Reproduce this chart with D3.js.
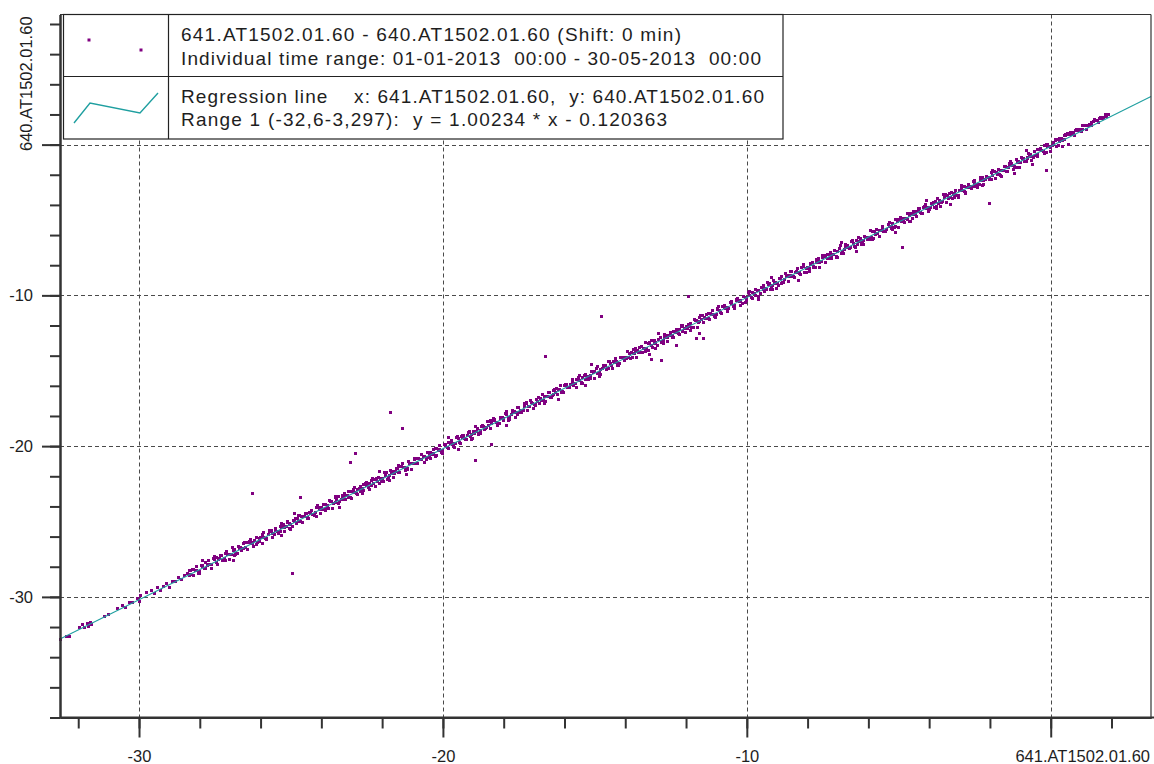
<!DOCTYPE html>
<html><head><meta charset="utf-8">
<script src="https://cdn.jsdelivr.net/npm/d3@7"></script>
<style>
body{margin:0;background:#fff}
svg{display:block}
text{font-family:"Liberation Sans",Arial,sans-serif;fill:#1e1e1e}
</style>
</head><body>
<svg id="chart" width="1154" height="764"></svg>
<script>
// ---------- data ----------
const xDomain = [-32.6, 3.3];
const yDomain = [-38, 8.63];
const xMajorTicks = [-30, -20, -10, 0];
const xMinorTicks = [-32,-30,-28,-26,-24,-22,-20,-18,-16,-14,-12,-10,-8,-6,-4,-2,0,2];
const yMajorTicks = [-30, -20, -10, 0];
const yMinorTicks = [-38,-36,-34,-32,-30,-28,-26,-24,-22,-20,-18,-16,-14,-12,-10,-8,-6,-4,-2,0,2,4,6,8];
const xTickLabels = {"-30":"-30","-20":"-20","-10":"-10","0":""};
const yTickLabels = {"-30":"-30","-20":"-20","-10":"-10","0":""};
const xAxisTitle = "641.AT1502.01.60";
const yAxisTitle = "640.AT1502.01.60";
const legendLines = [
  "641.AT1502.01.60 - 640.AT1502.01.60 (Shift: 0 min)",
  "Individual time range: 01-01-2013  00:00 - 30-05-2013  00:00",
  "Regression line    x: 641.AT1502.01.60,  y: 640.AT1502.01.60",
  "Range 1 (-32,6-3,297):  y = 1.00234 * x - 0.120363"
];
const regSlope = 1.00234;
const regIntercept = -0.120363;
const regXRange = [-32.6, 3.3];

// sparse points at the low end
const edgePoints = [[-32.6,-32.80],[-32.4,-32.60],[-32.3,-32.62],[-31.95,-32.05],[-31.85,-31.85],[-31.8,-32.0],[-31.7,-31.75],[-31.65,-31.95],[-31.6,-31.7],[-31.55,-31.8],[-31.15,-31.3],[-31.0,-31.15],[-30.7,-30.75],[-30.55,-30.55],[-30.45,-30.7],[-30.3,-30.4],[-30.2,-30.35],[-30.05,-30.1],[-30.0,-30.3],[-29.95,-29.9],[-29.75,-29.7],[-29.6,-29.55],[-29.5,-29.75],[-29.4,-29.4],[-29.3,-29.55],[-29.2,-29.3],[-29.1,-29.1],[-29.0,-29.35],[-28.9,-28.95],[-28.8,-29.0],[-28.7,-28.7],[-28.6,-28.85],[-28.5,-28.55]];

// dense band (first pass)
const bandPoints = [
[-28.4,-28.45],[-28.3,-28.52],[-28.2,-28.18],[-28.1,-28.25],[-28.0,-28.30],[-27.9,-27.98],[-27.8,-27.75],[-27.7,-27.88],[-27.6,-27.85],[-27.5,-27.52],
[-27.4,-27.52],[-27.3,-27.26],[-27.2,-27.48],[-27.1,-27.20],[-27.0,-27.20],[-26.9,-26.90],[-26.8,-27.13],[-26.7,-26.76],[-26.6,-26.76],[-26.5,-26.74],
[-26.4,-26.37],[-26.3,-26.49],[-26.2,-26.29],[-26.1,-26.37],[-26.0,-26.04],[-25.9,-26.04],[-25.8,-26.15],[-25.7,-25.64],[-25.6,-25.81],[-25.5,-25.61],
[-25.4,-25.66],[-25.3,-25.37],[-25.2,-25.37],[-25.1,-25.09],[-25.0,-25.23],[-24.9,-25.03],[-24.8,-24.83],[-24.7,-24.99],[-24.6,-24.70],[-24.5,-24.46],
[-24.4,-24.42],[-24.3,-24.55],[-24.2,-24.38],[-24.1,-24.05],[-24.0,-24.08],[-23.9,-24.20],[-23.8,-23.95],[-23.7,-23.68],[-23.6,-23.82],[-23.5,-23.55],
[-23.4,-23.64],[-23.3,-23.46],[-23.2,-23.26],[-23.1,-23.43],[-23.0,-23.00],[-22.9,-23.10],[-22.8,-22.90],[-22.7,-22.98],[-22.6,-22.56],[-22.5,-22.62],
[-22.4,-22.51],[-22.3,-22.51],[-22.2,-22.14],[-22.1,-22.45],[-22.0,-22.14],[-21.9,-21.94],[-21.8,-22.07],[-21.7,-21.79],[-21.6,-21.79],[-21.5,-21.47],
[-21.4,-21.36],[-21.3,-21.40],[-21.2,-21.49],[-21.1,-21.13],[-21.0,-21.13],[-20.9,-21.13],[-20.8,-20.79],[-20.7,-20.87],[-20.6,-20.67],[-20.5,-20.76],
[-20.4,-20.45],[-20.3,-20.52],[-20.2,-20.18],[-20.1,-20.25],[-20.0,-20.30],[-19.9,-19.98],[-19.8,-19.75],[-19.7,-19.88],[-19.6,-19.85],[-19.5,-19.52],
[-19.4,-19.37],[-19.3,-19.49],[-19.2,-19.29],[-19.1,-19.37],[-19.0,-19.04],[-18.9,-19.04],[-18.8,-19.15],[-18.7,-18.64],[-18.6,-18.81],[-18.5,-18.61],
[-18.4,-18.52],[-18.3,-18.26],[-18.2,-18.48],[-18.1,-18.20],[-18.0,-18.20],[-17.9,-17.90],[-17.8,-18.13],[-17.7,-17.76],[-17.6,-17.76],[-17.5,-17.74],
[-17.4,-17.66],[-17.3,-17.37],[-17.2,-17.37],[-17.1,-17.09],[-17.0,-17.23],[-16.9,-17.03],[-16.8,-16.83],[-16.7,-16.99],[-16.6,-16.70],[-16.5,-16.46],
[-16.4,-16.64],[-16.3,-16.46],[-16.2,-16.26],[-16.1,-16.43],[-16.0,-16.00],[-15.9,-16.10],[-15.8,-15.90],[-15.7,-15.98],[-15.6,-15.56],[-15.5,-15.62],
[-15.4,-15.42],[-15.3,-15.55],[-15.2,-15.38],[-15.1,-15.05],[-15.0,-15.08],[-14.9,-15.20],[-14.8,-14.95],[-14.7,-14.68],[-14.6,-14.82],[-14.5,-14.55],
[-14.4,-14.36],[-14.3,-14.40],[-14.2,-14.49],[-14.1,-14.13],[-14.0,-14.13],[-13.9,-14.13],[-13.8,-13.79],[-13.7,-13.87],[-13.6,-13.67],[-13.5,-13.76],
[-13.4,-13.51],[-13.3,-13.51],[-13.2,-13.14],[-13.1,-13.45],[-13.0,-13.14],[-12.9,-12.94],[-12.8,-13.07],[-12.7,-12.79],[-12.6,-12.79],[-12.5,-12.47],
[-12.4,-12.37],[-12.3,-12.49],[-12.2,-12.29],[-12.1,-12.37],[-12.0,-12.04],[-11.9,-12.04],[-11.8,-12.15],[-11.7,-11.64],[-11.6,-11.81],[-11.5,-11.61],
[-11.4,-11.45],[-11.3,-11.52],[-11.2,-11.18],[-11.1,-11.25],[-11.0,-11.30],[-10.9,-10.98],[-10.8,-10.75],[-10.7,-10.88],[-10.6,-10.85],[-10.5,-10.52],
[-10.4,-10.66],[-10.3,-10.37],[-10.2,-10.37],[-10.1,-10.09],[-10.0,-10.23],[-9.9,-10.03],[-9.8,-9.83],[-9.7,-9.99],[-9.6,-9.70],[-9.5,-9.46],
[-9.4,-9.52],[-9.3,-9.26],[-9.2,-9.48],[-9.1,-9.20],[-9.0,-9.20],[-8.9,-8.90],[-8.8,-9.13],[-8.7,-8.76],[-8.6,-8.76],[-8.5,-8.74],
[-8.4,-8.51],[-8.3,-8.51],[-8.2,-8.14],[-8.1,-8.45],[-8.0,-8.14],[-7.9,-7.94],[-7.8,-8.07],[-7.7,-7.79],[-7.6,-7.79],[-7.5,-7.47],
[-7.4,-7.42],[-7.3,-7.55],[-7.2,-7.38],[-7.1,-7.05],[-7.0,-7.08],[-6.9,-7.20],[-6.8,-6.95],[-6.7,-6.68],[-6.6,-6.82],[-6.5,-6.55],
[-6.4,-6.36],[-6.3,-6.40],[-6.2,-6.49],[-6.1,-6.13],[-6.0,-6.13],[-5.9,-6.13],[-5.8,-5.79],[-5.7,-5.87],[-5.6,-5.67],[-5.5,-5.76],
[-5.4,-5.64],[-5.3,-5.46],[-5.2,-5.26],[-5.1,-5.43],[-5.0,-5.00],[-4.9,-5.10],[-4.8,-4.90],[-4.7,-4.98],[-4.6,-4.56],[-4.5,-4.62],
[-4.4,-4.45],[-4.3,-4.52],[-4.2,-4.18],[-4.1,-4.25],[-4.0,-4.30],[-3.9,-3.98],[-3.8,-3.75],[-3.7,-3.88],[-3.6,-3.85],[-3.5,-3.52],
[-3.4,-3.37],[-3.3,-3.49],[-3.2,-3.29],[-3.1,-3.37],[-3.0,-3.04],[-2.9,-3.04],[-2.8,-3.15],[-2.7,-2.64],[-2.6,-2.81],[-2.5,-2.61],
[-2.4,-2.66],[-2.3,-2.37],[-2.2,-2.37],[-2.1,-2.09],[-2.0,-2.23],[-1.9,-2.03],[-1.8,-1.83],[-1.7,-1.99],[-1.6,-1.70],[-1.5,-1.46],
[-1.4,-1.52],[-1.3,-1.26],[-1.2,-1.48],[-1.1,-1.20],[-1.0,-1.20],[-0.9,-0.90],[-0.8,-1.13],[-0.7,-0.76],[-0.6,-0.76],[-0.5,-0.74],
[-0.4,-0.35],[-0.3,-0.42],[-0.2,-0.08],[-0.1,-0.15],[0.0,-0.20],[0.1,0.12],[0.2,0.35],[0.3,0.22],[0.4,0.25],[0.5,0.58],
[0.6,0.70],[0.7,0.65],[0.8,0.95],[0.9,0.92],[1.0,0.90],[1.1,1.30],[1.2,1.25],[1.3,1.28],[1.4,1.52],[1.5,1.58],
[1.6,1.75],[1.7,1.75],[1.8,2.00],[1.9,2.00]
];

// dense band (second pass, in between)
const bandPoints2 = [
[-28.35,-28.55],[-28.25,-28.17],[-28.15,-28.27],[-28.05,-28.39],[-27.95,-27.92],[-27.85,-28.11],[-27.75,-27.82],[-27.65,-27.83],[-27.55,-27.45],[-27.45,-27.75],
[-27.35,-27.44],[-27.25,-27.56],[-27.15,-27.09],[-27.05,-27.20],[-26.95,-27.19],[-26.85,-26.85],[-26.75,-27.13],[-26.65,-26.70],[-26.55,-26.76],[-26.45,-26.36],
[-26.35,-26.33],[-26.25,-26.41],[-26.15,-26.51],[-26.05,-26.13],[-25.95,-25.84],[-25.85,-26.12],[-25.75,-25.88],[-25.65,-25.67],[-25.55,-25.88],[-25.45,-25.64],
[-25.35,-25.63],[-25.25,-25.20],[-25.15,-25.34],[-25.05,-25.16],[-24.95,-25.32],[-24.85,-24.78],[-24.75,-24.98],[-24.65,-24.69],[-24.55,-24.69],[-24.45,-24.77],
[-24.35,-24.44],[-24.25,-24.56],[-24.15,-24.09],[-24.05,-24.20],[-23.95,-24.19],[-23.85,-23.85],[-23.75,-24.13],[-23.65,-23.70],[-23.55,-23.76],[-23.45,-23.36],
[-23.35,-23.55],[-23.25,-23.17],[-23.15,-23.27],[-23.05,-23.39],[-22.95,-22.92],[-22.85,-23.11],[-22.75,-22.82],[-22.65,-22.83],[-22.55,-22.45],[-22.45,-22.75],
[-22.35,-22.63],[-22.25,-22.20],[-22.15,-22.34],[-22.05,-22.16],[-21.95,-22.32],[-21.85,-21.78],[-21.75,-21.98],[-21.65,-21.69],[-21.55,-21.69],[-21.45,-21.77],
[-21.35,-21.33],[-21.25,-21.41],[-21.15,-21.51],[-21.05,-21.13],[-20.95,-20.84],[-20.85,-21.12],[-20.75,-20.88],[-20.65,-20.67],[-20.55,-20.88],[-20.45,-20.64],
[-20.35,-20.55],[-20.25,-20.17],[-20.15,-20.27],[-20.05,-20.39],[-19.95,-19.92],[-19.85,-20.11],[-19.75,-19.82],[-19.65,-19.83],[-19.55,-19.45],[-19.45,-19.75],
[-19.35,-19.44],[-19.25,-19.56],[-19.15,-19.09],[-19.05,-19.20],[-18.95,-19.19],[-18.85,-18.85],[-18.75,-19.13],[-18.65,-18.70],[-18.55,-18.76],[-18.45,-18.36],
[-18.35,-18.33],[-18.25,-18.41],[-18.15,-18.51],[-18.05,-18.13],[-17.95,-17.84],[-17.85,-18.12],[-17.75,-17.88],[-17.65,-17.67],[-17.55,-17.88],[-17.45,-17.64],
[-17.35,-17.63],[-17.25,-17.20],[-17.15,-17.34],[-17.05,-17.16],[-16.95,-17.32],[-16.85,-16.78],[-16.75,-16.98],[-16.65,-16.69],[-16.55,-16.69],[-16.45,-16.77],
[-16.35,-16.55],[-16.25,-16.17],[-16.15,-16.27],[-16.05,-16.39],[-15.95,-15.92],[-15.85,-16.11],[-15.75,-15.82],[-15.65,-15.83],[-15.55,-15.45],[-15.45,-15.75],
[-15.35,-15.33],[-15.25,-15.41],[-15.15,-15.51],[-15.05,-15.13],[-14.95,-14.84],[-14.85,-15.12],[-14.75,-14.88],[-14.65,-14.67],[-14.55,-14.88],[-14.45,-14.64],
[-14.35,-14.44],[-14.25,-14.56],[-14.15,-14.09],[-14.05,-14.20],[-13.95,-14.19],[-13.85,-13.85],[-13.75,-14.13],[-13.65,-13.70],[-13.55,-13.76],[-13.45,-13.36],
[-13.35,-13.63],[-13.25,-13.20],[-13.15,-13.34],[-13.05,-13.16],[-12.95,-13.32],[-12.85,-12.78],[-12.75,-12.98],[-12.65,-12.69],[-12.55,-12.69],[-12.45,-12.77],
[-12.35,-12.44],[-12.25,-12.56],[-12.15,-12.09],[-12.05,-12.20],[-11.95,-12.19],[-11.85,-11.85],[-11.75,-12.13],[-11.65,-11.70],[-11.55,-11.76],[-11.45,-11.36],
[-11.35,-11.55],[-11.25,-11.17],[-11.15,-11.27],[-11.05,-11.39],[-10.95,-10.92],[-10.85,-11.11],[-10.75,-10.82],[-10.65,-10.83],[-10.55,-10.45],[-10.45,-10.75],
[-10.35,-10.33],[-10.25,-10.41],[-10.15,-10.51],[-10.05,-10.13],[-9.95,-9.84],[-9.85,-10.12],[-9.75,-9.88],[-9.65,-9.67],[-9.55,-9.88],[-9.45,-9.64],
[-9.35,-9.63],[-9.25,-9.20],[-9.15,-9.34],[-9.05,-9.16],[-8.95,-9.32],[-8.85,-8.78],[-8.75,-8.98],[-8.65,-8.69],[-8.55,-8.69],[-8.45,-8.77],
[-8.35,-8.44],[-8.25,-8.56],[-8.15,-8.09],[-8.05,-8.20],[-7.95,-8.19],[-7.85,-7.85],[-7.75,-8.13],[-7.65,-7.70],[-7.55,-7.76],[-7.45,-7.36],
[-7.35,-7.55],[-7.25,-7.17],[-7.15,-7.27],[-7.05,-7.39],[-6.95,-6.92],[-6.85,-7.11],[-6.75,-6.82],[-6.65,-6.83],[-6.55,-6.45],[-6.45,-6.75],
[-6.35,-6.63],[-6.25,-6.20],[-6.15,-6.34],[-6.05,-6.16],[-5.95,-6.32],[-5.85,-5.78],[-5.75,-5.98],[-5.65,-5.69],[-5.55,-5.69],[-5.45,-5.77],
[-5.35,-5.33],[-5.25,-5.41],[-5.15,-5.51],[-5.05,-5.13],[-4.95,-4.84],[-4.85,-5.12],[-4.75,-4.88],[-4.65,-4.67],[-4.55,-4.88],[-4.45,-4.64],
[-4.35,-4.44],[-4.25,-4.56],[-4.15,-4.09],[-4.05,-4.20],[-3.95,-4.19],[-3.85,-3.85],[-3.75,-4.13],[-3.65,-3.70],[-3.55,-3.76],[-3.45,-3.36],
[-3.35,-3.55],[-3.25,-3.17],[-3.15,-3.27],[-3.05,-3.39],[-2.95,-2.92],[-2.85,-3.11],[-2.75,-2.82],[-2.65,-2.83],[-2.55,-2.45],[-2.45,-2.75],
[-2.35,-2.63],[-2.25,-2.20],[-2.15,-2.34],[-2.05,-2.16],[-1.95,-2.32],[-1.85,-1.78],[-1.75,-1.98],[-1.65,-1.69],[-1.55,-1.69],[-1.45,-1.77],
[-1.35,-1.33],[-1.25,-1.41],[-1.15,-1.51],[-1.05,-1.13],[-0.95,-0.84],[-0.85,-1.12],[-0.75,-0.88],[-0.65,-0.67],[-0.55,-0.88],[-0.45,-0.64],
[-0.35,-0.34],[-0.25,-0.46],[-0.15,0.01],[-0.05,-0.10],[0.05,-0.09],[0.15,0.25],[0.25,-0.03],[0.35,0.40],[0.45,0.34],[0.55,0.74],
[0.65,0.77],[0.75,0.73],[0.85,1.03],[0.95,1.01],[1.05,0.97],[1.15,1.30],[1.25,1.25],[1.35,1.45],[1.45,1.65],[1.55,1.59],[1.65,1.79],[1.75,1.83],[1.85,1.87]
];

// upper edge of the band
const upperPoints = [
[-28.32,-28.24],[-28.12,-27.97],[-27.92,-27.90],[-27.72,-27.60],[-27.52,-27.34],[-27.32,-27.27],[-27.12,-27.02],[-26.92,-26.72],[-26.72,-26.69],[-26.52,-26.38],
[-26.32,-26.18],[-26.12,-26.09],[-25.92,-25.72],[-25.72,-25.62],[-25.52,-25.47],[-25.32,-25.14],[-25.12,-25.00],[-24.92,-24.90],[-24.72,-24.57],[-24.52,-24.44],
[-24.32,-24.24],[-24.12,-23.97],[-23.92,-23.90],[-23.72,-23.60],[-23.52,-23.34],[-23.32,-23.27],[-23.12,-23.02],[-22.92,-22.72],[-22.72,-22.69],[-22.52,-22.38],
[-22.32,-22.18],[-22.12,-22.09],[-21.92,-21.72],[-21.72,-21.62],[-21.52,-21.47],[-21.32,-21.14],[-21.12,-21.00],[-20.92,-20.90],[-20.72,-20.57],[-20.52,-20.44],
[-20.32,-20.24],[-20.12,-19.97],[-19.92,-19.90],[-19.72,-19.60],[-19.52,-19.34],[-19.32,-19.27],[-19.12,-19.02],[-18.92,-18.72],[-18.72,-18.69],[-18.52,-18.38],
[-18.32,-18.18],[-18.12,-18.09],[-17.92,-17.72],[-17.72,-17.62],[-17.52,-17.47],[-17.32,-17.14],[-17.12,-17.00],[-16.92,-16.90],[-16.72,-16.57],[-16.52,-16.44],
[-16.32,-16.24],[-16.12,-15.97],[-15.92,-15.90],[-15.72,-15.60],[-15.52,-15.34],[-15.32,-15.27],[-15.12,-15.02],[-14.92,-14.72],[-14.72,-14.69],[-14.52,-14.38],
[-14.32,-14.18],[-14.12,-14.09],[-13.92,-13.72],[-13.72,-13.62],[-13.52,-13.47],[-13.32,-13.14],[-13.12,-13.00],[-12.92,-12.90],[-12.72,-12.57],[-12.52,-12.44],
[-12.32,-12.24],[-12.12,-11.97],[-11.92,-11.90],[-11.72,-11.60],[-11.52,-11.34],[-11.32,-11.27],[-11.12,-11.02],[-10.92,-10.72],[-10.72,-10.69],[-10.52,-10.38],
[-10.32,-10.18],[-10.12,-10.09],[-9.92,-9.72],[-9.72,-9.62],[-9.52,-9.47],[-9.32,-9.14],[-9.12,-9.00],[-8.92,-8.90],[-8.72,-8.57],[-8.52,-8.44],
[-8.32,-8.24],[-8.12,-7.97],[-7.92,-7.90],[-7.72,-7.60],[-7.52,-7.34],[-7.32,-7.27],[-7.12,-7.02],[-6.92,-6.72],[-6.72,-6.69],[-6.52,-6.38],
[-6.32,-6.18],[-6.12,-6.09],[-5.92,-5.72],[-5.72,-5.62],[-5.52,-5.47],[-5.32,-5.14],[-5.12,-5.00],[-4.92,-4.90],[-4.72,-4.57],[-4.52,-4.44],
[-4.32,-4.24],[-4.12,-3.97],[-3.92,-3.90],[-3.72,-3.60],[-3.52,-3.34],[-3.32,-3.27],[-3.12,-3.02],[-2.92,-2.72],[-2.72,-2.69],[-2.52,-2.38],
[-2.32,-2.18],[-2.12,-2.09],[-1.92,-1.72],[-1.72,-1.62],[-1.52,-1.47],[-1.32,-1.14],[-1.12,-1.00],[-0.92,-0.90],[-0.72,-0.57],[-0.52,-0.44],
[-0.32,-0.24],[-0.12,0.03],[0.08,0.10],[0.28,0.40],[0.48,0.66],[0.68,0.73],[0.88,0.98],[1.08,1.28],[1.28,1.31],[1.48,1.62],[1.68,1.76]
];

// lower edge of the band
const lowerPoints = [
[-28.22,-28.60],[-28.02,-28.47],[-27.82,-28.14],[-27.62,-28.12],[-27.42,-27.83],[-27.22,-27.57],[-27.02,-27.49],[-26.82,-27.22],[-26.62,-26.92],[-26.42,-26.85],
[-26.22,-26.65],[-26.02,-26.32],[-25.82,-26.22],[-25.62,-26.09],[-25.42,-25.77],[-25.22,-25.63],[-25.02,-25.52],[-24.82,-25.14],[-24.62,-25.07],[-24.42,-24.80],
[-24.22,-24.60],[-24.02,-24.47],[-23.82,-24.14],[-23.62,-24.12],[-23.42,-23.83],[-23.22,-23.57],[-23.02,-23.49],[-22.82,-23.22],[-22.62,-22.92],[-22.42,-22.85],
[-22.22,-22.65],[-22.02,-22.32],[-21.82,-22.22],[-21.62,-22.09],[-21.42,-21.77],[-21.22,-21.63],[-21.02,-21.52],[-20.82,-21.14],[-20.62,-21.07],[-20.42,-20.80],
[-20.22,-20.60],[-20.02,-20.47],[-19.82,-20.14],[-19.62,-20.12],[-19.42,-19.83],[-19.22,-19.57],[-19.02,-19.49],[-18.82,-19.22],[-18.62,-18.92],[-18.42,-18.85],
[-18.22,-18.65],[-18.02,-18.32],[-17.82,-18.22],[-17.62,-18.09],[-17.42,-17.77],[-17.22,-17.63],[-17.02,-17.52],[-16.82,-17.14],[-16.62,-17.07],[-16.42,-16.80],
[-16.22,-16.60],[-16.02,-16.47],[-15.82,-16.14],[-15.62,-16.12],[-15.42,-15.83],[-15.22,-15.57],[-15.02,-15.49],[-14.82,-15.22],[-14.62,-14.92],[-14.42,-14.85],
[-14.22,-14.65],[-14.02,-14.32],[-13.82,-14.22],[-13.62,-14.09],[-13.42,-13.77],[-13.22,-13.63],[-13.02,-13.52],[-12.82,-13.14],[-12.62,-13.07],[-12.42,-12.80],
[-12.22,-12.60],[-12.02,-12.47],[-11.82,-12.14],[-11.62,-12.12],[-11.42,-11.83],[-11.22,-11.57],[-11.02,-11.49],[-10.82,-11.22],[-10.62,-10.92],[-10.42,-10.85],
[-10.22,-10.65],[-10.02,-10.32],[-9.82,-10.22],[-9.62,-10.09],[-9.42,-9.77],[-9.22,-9.63],[-9.02,-9.52],[-8.82,-9.14],[-8.62,-9.07],[-8.42,-8.80],
[-8.22,-8.60],[-8.02,-8.47],[-7.82,-8.14],[-7.62,-8.12],[-7.42,-7.83],[-7.22,-7.57],[-7.02,-7.49],[-6.82,-7.22],[-6.62,-6.92],[-6.42,-6.85],
[-6.22,-6.65],[-6.02,-6.32],[-5.82,-6.22],[-5.62,-6.09],[-5.42,-5.77],[-5.22,-5.63],[-5.02,-5.52],[-4.82,-5.14],[-4.62,-5.07],[-4.42,-4.80],
[-4.22,-4.60],[-4.02,-4.47],[-3.82,-4.14],[-3.62,-4.12],[-3.42,-3.83],[-3.22,-3.57],[-3.02,-3.49],[-2.82,-3.22],[-2.62,-2.92],[-2.42,-2.85],
[-2.22,-2.65],[-2.02,-2.32],[-1.82,-2.22],[-1.62,-2.09],[-1.42,-1.77],[-1.22,-1.63],[-1.02,-1.52],[-0.82,-1.14],[-0.62,-1.07],[-0.42,-0.80],
[-0.22,-0.60],[-0.02,-0.47],[0.18,-0.14],[0.38,-0.12],[0.78,0.60],[1.18,1.00],[1.58,1.48]
];

// wider scatter around the band
const spreadPoints = [
[-28.35,-28.25],[-28.05,-28.45],[-27.75,-27.90],[-27.45,-27.37],[-27.15,-27.60],[-26.85,-27.23],[-26.55,-26.43],[-26.25,-26.45],[-25.95,-26.43],[-25.65,-25.58],[-25.35,-25.30],[-25.05,-25.47],[-24.75,-24.61],[-24.45,-24.75],[-24.15,-24.65],
[-23.85,-24.27],[-23.55,-23.43],[-23.25,-23.55],[-22.95,-22.88],[-22.65,-23.13],[-22.35,-22.25],[-22.05,-22.20],[-21.75,-22.25],[-21.45,-21.31],[-21.15,-21.53],[-20.85,-20.80],[-20.55,-20.75],[-20.25,-20.70],[-19.95,-19.87],[-19.65,-20.05],
[-19.35,-19.28],[-19.05,-19.53],[-18.75,-18.95],[-18.45,-18.33],[-18.15,-18.53],[-17.85,-18.30],[-17.55,-17.47],[-17.25,-17.11],[-16.95,-17.25],[-16.65,-17.15],[-16.35,-16.30],[-16.05,-16.47],[-15.75,-15.65],[-15.45,-15.85],[-15.15,-15.30],
[-14.85,-15.35],[-14.55,-14.41],[-14.25,-14.67],[-13.95,-14.10],[-13.65,-13.55],[-13.35,-13.73],[-13.05,-12.98],[-12.75,-13.20],[-12.45,-12.65],[-12.15,-12.03],[-11.85,-12.33],[-11.55,-11.50],[-11.25,-11.55],[-10.95,-10.87],[-10.65,-11.05],
[-10.35,-10.25],[-10.05,-10.45],[-9.75,-9.90],[-9.45,-9.37],[-9.15,-9.60],[-8.85,-9.23],[-8.55,-8.43],[-8.25,-8.45],[-7.95,-8.43],[-7.65,-7.58],[-7.35,-7.30],[-7.05,-7.47],[-6.75,-6.61],[-6.45,-6.75],[-6.15,-6.65],
[-5.85,-6.27],[-5.55,-5.43],[-5.25,-5.55],[-4.95,-4.88],[-4.65,-5.13],[-4.35,-4.25],[-4.05,-4.20],[-3.75,-4.25],[-3.45,-3.31],[-3.15,-3.53],[-2.85,-2.80],[-2.55,-2.75],[-2.25,-2.70],[-1.95,-1.87],[-1.65,-2.05],
[-1.35,-1.28],[-1.05,-1.53],[-0.75,-0.95],[-0.45,-0.33],[-0.15,-0.53],[0.15,0.35],[0.45,0.60],[0.75,0.80],[1.05,1.30],[1.35,1.25],[1.65,1.83]
];

// points slightly off the band
const offBandPoints = [
[-26.9,-27.6],[-25.3,-25.95],[-23.4,-24.1],[-21.2,-21.9],[-19.5,-20.2],[-17.9,-18.6],[-16.2,-16.9],[-15.3,-16.0],[-13.14,-14.28],[-12.81,-14.33],[-13.2,-13.89],[-12.32,-13.34],[-11.66,-12.89],[-11.42,-12.87],[-11.55,-12.56],[-9.6,-10.3],[-8.3,-9.0],[-6.4,-7.1],[-5.1,-5.8],[-3.3,-4.0],[-1.2,-1.9],[0.6,0.0],
[-27.9,-27.6],[-24.9,-24.5],[-22.1,-21.7],[-19.8,-19.4],[-15.1,-14.6],[-12.9,-12.5],[-9.2,-8.8],[-6.9,-6.5],[-4.1,-3.7],[-0.8,-0.4],[-18.4,-19.9]
];

// clear outliers
const outlierPoints = [[-14.77,-11.41],[-11.91,-10.09],[-16.62,-14.07],[-21.72,-17.78],[-21.32,-18.85],[-22.88,-20.50],[-23.05,-21.10],[-18.92,-20.97],[-26.26,-23.16],[-24.68,-23.42],[-24.94,-28.47],[-4.87,-6.83],[-2.01,-3.92],[-0.14,-1.73],[-0.60,-1.33]];

// ---------- drawing ----------
const plot = {left: 60, right: 1151, top: 14.5, bottom: 717.5};
const svg = d3.select("#chart");
const x = d3.scaleLinear().domain(xDomain).range([plot.left, plot.right]);
const y = d3.scaleLinear().domain(yDomain).range([plot.bottom, plot.top]);

svg.append("rect").attr("width",1154).attr("height",764).attr("fill","#fff");

// grid
const grid = svg.append("g").attr("stroke","#4a4a4a").attr("stroke-width",1).attr("stroke-dasharray","4,3");
grid.selectAll(".gx").data(xMajorTicks).join("line").attr("class","gx")
  .attr("x1",d=>Math.round(x(d))+0.5).attr("x2",d=>Math.round(x(d))+0.5)
  .attr("y1",plot.top).attr("y2",plot.bottom);
grid.selectAll(".gy").data(yMajorTicks).join("line").attr("class","gy")
  .attr("y1",d=>Math.round(y(d))+0.5).attr("y2",d=>Math.round(y(d))+0.5)
  .attr("x1",plot.left).attr("x2",plot.right);

// points
const allPoints = [...edgePoints, ...bandPoints, ...bandPoints2, ...upperPoints, ...lowerPoints, ...spreadPoints, ...offBandPoints, ...outlierPoints];
svg.append("g").attr("fill","#800080").attr("shape-rendering","crispEdges").selectAll("rect").data(allPoints).join("rect")
  .attr("x",d=>Math.round(x(d[0])-1.5)).attr("y",d=>Math.round(y(d[1])-1.5)).attr("width",3).attr("height",3);

// regression line
const regPts = regXRange.map(v => [v, regSlope*v + regIntercept]);
svg.append("path").datum(regPts)
  .attr("d", d3.line().x(d=>x(d[0])).y(d=>y(d[1])))
  .attr("fill","none").attr("stroke","#1f9fa0").attr("stroke-width",1.1);

// frame: top and right border
svg.append("line").attr("x1",plot.left).attr("x2",plot.right).attr("y1",plot.top).attr("y2",plot.top)
  .attr("stroke","#333").attr("stroke-width",1.2);
svg.append("line").attr("x1",plot.right).attr("x2",plot.right).attr("y1",plot.top).attr("y2",plot.bottom)
  .attr("stroke","#333").attr("stroke-width",1.2);

// axes
function styleAxis(g){
  g.select(".domain").attr("stroke","#333").attr("stroke-width",2);
  g.selectAll(".tick line").attr("stroke","#333").attr("stroke-width",2);
  g.selectAll(".tick text").attr("fill","#1e1e1e").style("font-size","16.5px")
    .style("font-family",'"Liberation Sans",Arial,sans-serif');
}
const yMinor = svg.append("g").attr("transform",`translate(${plot.left},0)`)
  .call(d3.axisLeft(y).tickValues(yMinorTicks).tickSize(10).tickSizeOuter(0).tickFormat(""));
styleAxis(yMinor);
const yMajor = svg.append("g").attr("transform",`translate(${plot.left},0)`)
  .call(d3.axisLeft(y).tickValues(yMajorTicks).tickSize(18).tickSizeOuter(0).tickPadding(9)
    .tickFormat(d=>yTickLabels[String(d)]));
styleAxis(yMajor);

const xMinor = svg.append("g").attr("transform",`translate(0,${plot.bottom})`)
  .call(d3.axisBottom(x).tickValues(xMinorTicks).tickSize(11).tickSizeOuter(0).tickFormat(""));
styleAxis(xMinor);
const xMajor = svg.append("g").attr("transform",`translate(0,${plot.bottom})`)
  .call(d3.axisBottom(x).tickValues(xMajorTicks).tickSize(20).tickSizeOuter(0).tickPadding(13)
    .tickFormat(d=>xTickLabels[String(d)]));
styleAxis(xMajor);
svg.append("line").attr("x1",plot.left).attr("x2",1154).attr("y1",plot.bottom).attr("y2",plot.bottom)
  .attr("stroke","#333").attr("stroke-width",2);

// axis titles
svg.append("text").attr("x",1150).attr("y",762).attr("text-anchor","end")
  .style("font-size","16.5px").text(xAxisTitle);
svg.append("text").attr("transform","translate(32,151) rotate(-90)").attr("text-anchor","start")
  .style("font-size","16.5px").text(yAxisTitle);

// legend
const lg = svg.append("g");
lg.append("rect").attr("x",63.5).attr("y",14.5).attr("width",719.5).attr("height",124.5)
  .attr("fill","#fff").attr("stroke","#222").attr("stroke-width",1.2);
lg.append("line").attr("x1",168.5).attr("x2",168.5).attr("y1",14.5).attr("y2",139)
  .attr("stroke","#222").attr("stroke-width",1.2);
lg.append("line").attr("x1",63.5).attr("x2",783).attr("y1",76.5).attr("y2",76.5)
  .attr("stroke","#222").attr("stroke-width",1.2);
const legendMarkerPts = [[89,40],[141,50]];
lg.selectAll(".lm").data(legendMarkerPts).join("rect").attr("class","lm")
  .attr("x",d=>d[0]-1.5).attr("y",d=>d[1]-1.5).attr("width",3).attr("height",3).attr("fill","#800080");
const legendLinePts = [[74,123],[90,103],[140,113],[158,93]];
lg.append("path").datum(legendLinePts).attr("d",d3.line())
  .attr("fill","none").attr("stroke","#1f9fa0").attr("stroke-width",1.4);
const legendBaselines = [41, 65, 103, 126];
const legendWidths = [500, 580, 583, 486];
lg.selectAll(".lt").data(legendLines).join("text").attr("class","lt")
  .attr("x",181).attr("y",(d,i)=>legendBaselines[i])
  .attr("textLength",(d,i)=>legendWidths[i]).attr("lengthAdjust","spacing")
  .style("font-size","19px").style("white-space","pre")
  .text(d=>d);
</script>
</body></html>
